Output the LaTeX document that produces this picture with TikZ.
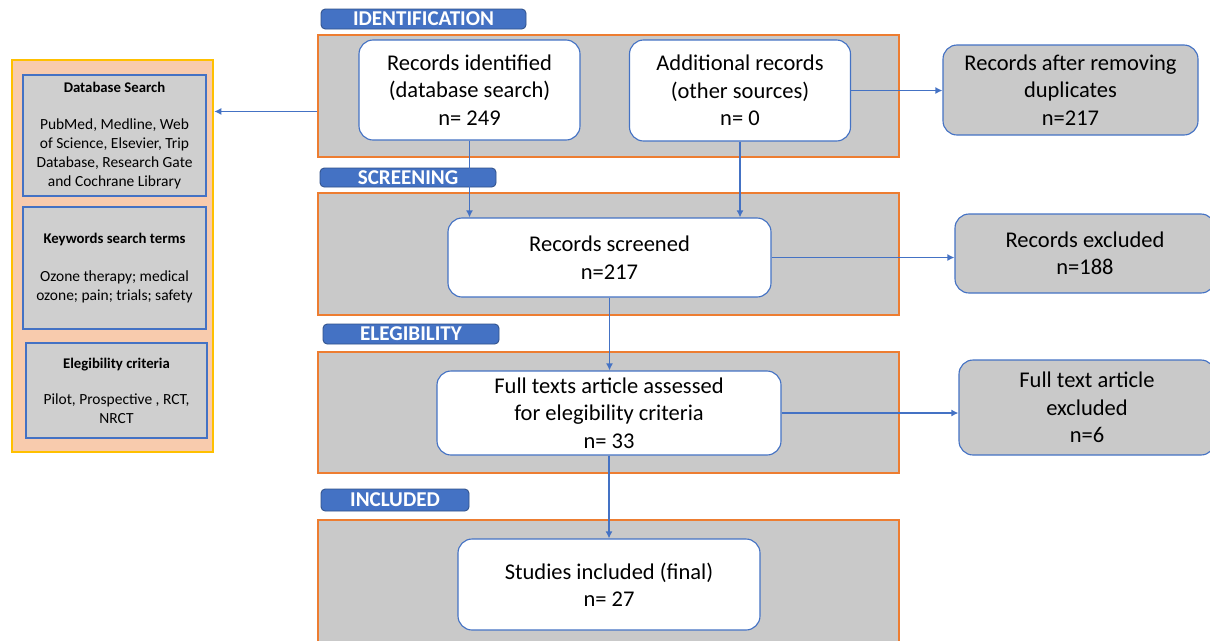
\documentclass[tikz,border=0pt]{standalone}
\usepackage{fontspec}
\setmainfont{Carlito}
\usepackage{xcolor}
\usepackage{tikz}
\usetikzlibrary{arrows.meta, positioning, calc}
\definecolor{labelblue}{HTML}{4472C4}
\definecolor{bandgray}{HTML}{C9C9C9}
\definecolor{bandorange}{HTML}{ED7D31}
\definecolor{panelpeach}{HTML}{F8CBAD}
\definecolor{panelgold}{HTML}{FFC000}
\definecolor{searchgray}{HTML}{CFCFCF}
\newcommand{\pxu}{0.025cm}
\newcommand{\searchheadfont}{\bfseries\fontsize{10.5}{13.5}\selectfont}
\tikzset{
  boxsize/.style 2 args={minimum width={#1*\pxu}, minimum height={#2*\pxu}},
  stageband/.style={rectangle, draw=bandorange, fill=bandgray,
                    line width=1.6pt, inner sep=0pt},
  stagelabel/.style={rectangle, rounded corners=3pt, draw=labelblue!70!black,
                     fill=labelblue, line width=0.6pt, inner sep=0pt,
                     text=white, font=\bfseries\fontsize{15}{16}\selectfont},
  flowbox/.style={rectangle, rounded corners=10pt, draw=labelblue, fill=white,
                  line width=0.8pt, inner sep=0pt, align=center,
                  font=\fontsize{16}{19.5}\selectfont},
  sidebox/.style={flowbox, fill=bandgray},
  searchbox/.style={rectangle, draw=labelblue, fill=searchgray,
                    line width=0.8pt, inner sep=0pt, align=center,
                    font=\fontsize{11}{13.5}\selectfont},
  flowarrow/.style={draw=labelblue, line width=1.3pt,
                    -{Latex[length=5pt,width=5pt]}},
}

\begin{document}
\begin{tikzpicture}[x=\pxu, y=-\pxu]
    \useasboundingbox (0,0) rectangle (1210,640);
    %% stage bands
    \node[stageband, boxsize={581}{122}] (idband)   at (608.5,96)    {};
    \node[stageband, boxsize={581}{122}] (scrband)  at (608.5,254)   {};
    \node[stageband, boxsize={581}{121}] (eligband) at (608.5,412.5) {};
    \node[stageband, boxsize={581}{124}] (inclband) at (608.5,582)   {};
    %% stage labels
    \node[stagelabel, boxsize={205}{20}] (idlabel)   at (423.5,19)  {IDENTIFICATION};
    \node[stagelabel, boxsize={176}{19}] (scrlabel)  at (408,177.5) {SCREENING};
    \node[stagelabel, boxsize={176}{20}] (elilabel)  at (411,334)   {ELEGIBILITY};
    \node[stagelabel, boxsize={148}{22}] (incllabel) at (395,500)   {INCLUDED};
    %% flow boxes
    \node[flowbox, boxsize={221}{100}] (recid) at (469.5,90)
      {Records identified\\(database search)\\n= 249};
    \node[flowbox, boxsize={221}{101}] (addrec) at (740,90.5)
      {Additional records\\(other sources)\\n= 0};
    \node[flowbox, boxsize={323}{79}] (screened) at (609.5,257.5)
      {Records screened\\n=217};
    \node[flowbox, boxsize={344}{84}] (fulltext) at (609,413)
      {Full texts article assessed\\for elegibility criteria\\n= 33};
    \node[flowbox, boxsize={302}{91}] (studies) at (609,584.5)
      {Studies included (final)\\n= 27};
    %% side boxes
    \node[sidebox, boxsize={255}{90}] (dup) at (1070.5,90)
      {Records after removing\\duplicates\\n=217};
    \node[sidebox, boxsize={260}{79}] (excl) at (1085,253.5)
      {Records excluded\\n=188};
    \node[sidebox, boxsize={256}{95}] (ftexcl) at (1087,407.5)
      {Full text article\\excluded\\n=6};
    %% search panel
    \node[rectangle, draw=panelgold, fill=panelpeach, line width=1.8pt,
          boxsize={201}{392}] (panel) at (112.5,256) {};
    \node[searchbox, boxsize={183}{121}] (dbsearch) at (114.5,135.5)
      {{\searchheadfont Database Search}\\[13pt]PubMed, Medline, Web\\of Science, Elsevier, Trip\\Database, Research Gate\\and Cochrane Library};
    \node[searchbox, boxsize={183}{122}] (keywords) at (114.5,268)
      {{\searchheadfont Keywords search terms}\\[13pt]Ozone therapy; medical\\ozone; pain; trials; safety};
    \node[searchbox, boxsize={181}{95}] (criteria) at (116.5,390.5)
      {{\searchheadfont Elegibility criteria}\\[12pt]Pilot, Prospective , RCT,\\NRCT};
    %% connectors
    \draw[flowarrow] (recid.south) -- (recid.south |- screened.north);
    \draw[flowarrow] (addrec.south) -- (addrec.south |- screened.north);
    \draw[flowarrow] (screened.south) -- (screened.south |- fulltext.north);
    \draw[flowarrow] (fulltext.south) -- (fulltext.south |- studies.north);
    \draw[flowarrow] (addrec.east) -- (addrec.east -| dup.west);
    \draw[flowarrow] (screened.east) -- (screened.east -| excl.west);
    \draw[flowarrow] (fulltext.east) -- (fulltext.east -| ftexcl.west);
    \draw[flowarrow] ([yshift=-11pt]idband.west) -- ([yshift=-11pt]idband.west -| panel.east);
  \end{tikzpicture}
\end{document}
